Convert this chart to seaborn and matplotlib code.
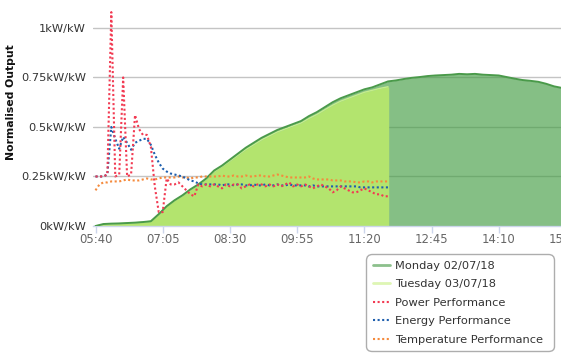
import numpy as np
import pandas as pd
import matplotlib
matplotlib.use("Agg")
import matplotlib.pyplot as plt
import seaborn as sns
from matplotlib.lines import Line2D

# ---------------- data ----------------
tick_labels = ["05:40", "07:05", "08:30", "09:55", "11:20", "12:45", "14:10", "15:35"]

area_start = "05:40"
area_step_min = 10
monday = [0.0, 0.01, 0.012, 0.013, 0.015, 0.017, 0.02, 0.024, 0.06, 0.10,
          0.13, 0.155, 0.185, 0.21, 0.24, 0.28, 0.305, 0.335, 0.365, 0.395,
          0.42, 0.445, 0.465, 0.485, 0.50, 0.515, 0.53, 0.555, 0.575, 0.60,
          0.625, 0.645, 0.66, 0.675, 0.69, 0.70, 0.715, 0.73, 0.735, 0.742,
          0.748, 0.752, 0.757, 0.76, 0.762, 0.764, 0.768, 0.766, 0.768, 0.764,
          0.762, 0.76, 0.752, 0.744, 0.737, 0.733, 0.728, 0.718, 0.705, 0.697,
          0.69]
tuesday = [0.0, 0.008, 0.01, 0.012, 0.014, 0.016, 0.019, 0.024, 0.058, 0.098,
           0.128, 0.152, 0.182, 0.207, 0.236, 0.274, 0.30, 0.328, 0.357, 0.386,
           0.41, 0.435, 0.455, 0.475, 0.49, 0.505, 0.52, 0.543, 0.563, 0.587,
           0.61, 0.63, 0.645, 0.66, 0.675, 0.685, 0.695, 0.703]

perf_start = "05:40"
perf_step_min = 5
power = [0.25, 0.25, 0.25, 0.26, 1.08, 0.25, 0.26, 0.75, 0.25, 0.26,
         0.56, 0.49, 0.46, 0.46, 0.40, 0.20, 0.07, 0.07, 0.24, 0.21,
         0.21, 0.22, 0.20, 0.18, 0.16, 0.15, 0.21, 0.20, 0.21, 0.20,
         0.21, 0.20, 0.19, 0.21, 0.20, 0.21, 0.21, 0.19, 0.20, 0.21,
         0.20, 0.21, 0.21, 0.20, 0.21, 0.20, 0.21, 0.20, 0.21, 0.22,
         0.20, 0.21, 0.20, 0.21, 0.20, 0.19, 0.20, 0.21, 0.20, 0.19,
         0.17, 0.18, 0.20, 0.19, 0.18, 0.17, 0.17, 0.18, 0.19, 0.18,
         0.17, 0.16, 0.16, 0.15, 0.15]
energy = [0.25, 0.25, 0.25, 0.26, 0.50, 0.44, 0.39, 0.45, 0.42, 0.385,
          0.42, 0.43, 0.44, 0.44, 0.41, 0.36, 0.32, 0.29, 0.275, 0.265,
          0.26, 0.255, 0.25, 0.24, 0.23, 0.225, 0.215, 0.21, 0.21, 0.21,
          0.21, 0.21, 0.205, 0.21, 0.21, 0.205, 0.21, 0.21, 0.205, 0.205,
          0.21, 0.205, 0.205, 0.21, 0.205, 0.205, 0.21, 0.205, 0.205, 0.21,
          0.205, 0.205, 0.205, 0.205, 0.20, 0.205, 0.20, 0.20, 0.20, 0.20,
          0.20, 0.20, 0.20, 0.20, 0.20, 0.20, 0.20, 0.195, 0.195, 0.195,
          0.195, 0.195, 0.195, 0.195, 0.195]
temperature = [0.18, 0.21, 0.22, 0.22, 0.225, 0.225, 0.225, 0.23, 0.235, 0.23,
               0.23, 0.23, 0.235, 0.24, 0.235, 0.235, 0.24, 0.245, 0.245, 0.245,
               0.245, 0.25, 0.245, 0.245, 0.24, 0.245, 0.245, 0.25, 0.25, 0.25,
               0.25, 0.25, 0.255, 0.25, 0.25, 0.255, 0.25, 0.25, 0.255, 0.25,
               0.25, 0.255, 0.255, 0.25, 0.25, 0.255, 0.26, 0.255, 0.25, 0.245,
               0.245, 0.245, 0.245, 0.245, 0.25, 0.24, 0.235, 0.235, 0.235, 0.235,
               0.23, 0.23, 0.23, 0.225, 0.225, 0.225, 0.22, 0.22, 0.225, 0.225,
               0.22, 0.225, 0.225, 0.225, 0.225]

y_ticks = [0, 0.25, 0.5, 0.75, 1.0]
y_tick_labels = ["0kW/kW", "0.25kW/kW", "0.5kW/kW", "0.75kW/kW", "1kW/kW"]


def to_min(s):
    h, m = s.split(":")
    return int(h) * 60 + int(m)


def series_times(start, step, n):
    return to_min(start) + step * np.arange(n)


t_mon = series_times(area_start, area_step_min, len(monday))
t_tue = series_times(area_start, area_step_min, len(tuesday))
t_perf = series_times(perf_start, perf_step_min, len(power))

perf_df = pd.concat([
    pd.DataFrame({"t": t_perf, "v": power, "s": "Power Performance"}),
    pd.DataFrame({"t": t_perf, "v": energy, "s": "Energy Performance"}),
    pd.DataFrame({"t": t_perf, "v": temperature, "s": "Temperature Performance"}),
])

# ---------------- style ----------------
sns.set_theme(style="white")
plt.rcParams["font.family"] = ["DejaVu Sans"]

W, H = 561, 361
fig = plt.figure(figsize=(W / 100, H / 100), dpi=100)
ax_left, ax_right, ax_bottom, ax_top = 93, 570, 226, 0
ax_w = ax_right - ax_left
ax_h = ax_bottom - ax_top
ax = fig.add_axes([ax_left / W, (H - ax_bottom) / H, ax_w / W, ax_h / H])

px_per_min = 67.2 / 85
x0 = to_min("05:40") - 2.5 / px_per_min
x1 = x0 + ax_w / px_per_min
ax.set_xlim(x0, x1)
ax.set_ylim(0, 1.141)

# grid
ax.set_yticks(y_ticks)
ax.yaxis.grid(True, color="#c4c4c4", linewidth=1.0, zorder=0)
ax.set_axisbelow(True)

# areas
mon_color = "#449d44"
tue_color = "#b3e46e"
ax.fill_between(t_mon, monday, color=mon_color, alpha=0.65, linewidth=0, zorder=1)
ax.fill_between(t_tue, tuesday, color=tue_color, alpha=1.0, linewidth=0, zorder=2)
ax.vlines(t_tue[-1], 0, tuesday[-1], color=tue_color, linewidth=1, zorder=2)
sns.lineplot(x=t_tue, y=tuesday, ax=ax, color="#c6ee8c", linewidth=1.0, zorder=3)
sns.lineplot(x=t_mon, y=monday, ax=ax, color="#4a9a4a", linewidth=1.4, zorder=4)

# performance dotted lines
dot = (0, (1, 1.2))
perf_colors = {"Power Performance": "#f23a52",
               "Energy Performance": "#1f5fae",
               "Temperature Performance": "#f58a3c"}
for name in ["Temperature Performance", "Energy Performance", "Power Performance"]:
    d = perf_df[perf_df["s"] == name]
    sns.lineplot(data=d, x="t", y="v", ax=ax, color=perf_colors[name],
                 linewidth=1.5, linestyle=dot, zorder=5)

# axes styling
for sp in ["top", "right", "left"]:
    ax.spines[sp].set_visible(False)
ax.spines["bottom"].set_color("#ccd6eb")
ax.spines["bottom"].set_linewidth(1)

ax.set_xticks([to_min(s) for s in tick_labels])
ax.set_xticklabels(tick_labels, fontsize=8.4, color="#666666")
ax.tick_params(axis="x", length=5, width=1, color="#ccd6eb", pad=0, bottom=True)
ax.set_yticklabels(y_tick_labels, fontsize=8.2, color="#333333")
ax.tick_params(axis="y", length=0, pad=5)
ax.set_xlabel("")
ax.set_ylabel("Normalised Output", fontsize=7.8, fontweight="bold", color="#111111")
ax.yaxis.set_label_coords((16 - ax_left) / ax_w, (ax_bottom - 102) / ax_h)

# legend
handles = [
    Line2D([], [], color="#8cc08c", linewidth=2),
    Line2D([], [], color="#def6b4", linewidth=2),
    Line2D([], [], color=perf_colors["Power Performance"], linewidth=1.5, linestyle=dot),
    Line2D([], [], color=perf_colors["Energy Performance"], linewidth=1.5, linestyle=dot),
    Line2D([], [], color=perf_colors["Temperature Performance"], linewidth=1.5, linestyle=dot),
]
labels = ["Monday 02/07/18", "Tuesday 03/07/18", "Power Performance",
          "Energy Performance", "Temperature Performance"]
leg = fig.legend(handles, labels, loc="upper left",
                 bbox_to_anchor=(366 / W, (H - 254) / H, 188 / W, 0),
                 mode="expand", borderaxespad=0, fontsize=8.2, frameon=True,
                 fancybox=True, handlelength=1.55, handletextpad=0.4,
                 labelspacing=0.74, borderpad=0.6)
leg.get_frame().set_edgecolor("#999999")
leg.get_frame().set_linewidth(1.0)
leg.get_frame().set_boxstyle("round,pad=0,rounding_size=0.5")
for t in leg.get_texts():
    t.set_color("#333333")

fig.savefig("out.png", dpi=100)
